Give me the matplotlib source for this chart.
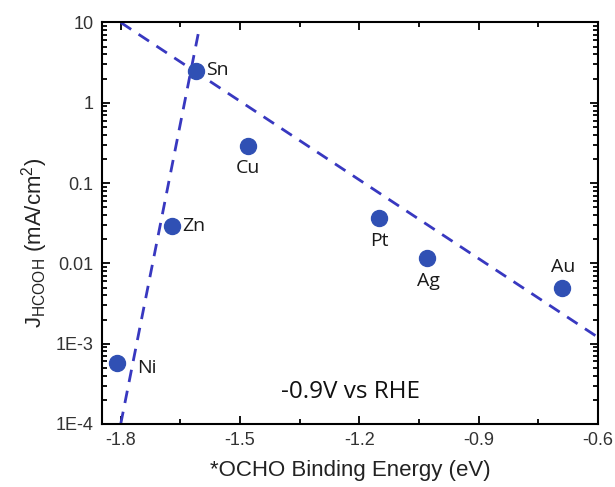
import matplotlib
matplotlib.use("Agg")
import matplotlib.pyplot as plt
from matplotlib.ticker import FixedLocator, MultipleLocator, LogLocator, NullFormatter

plt.rcParams['font.family'] = ['Liberation Sans', 'DejaVu Sans']
plt.rcParams['mathtext.fontset'] = 'custom'
plt.rcParams['mathtext.rm'] = 'Liberation Sans'
plt.rcParams['mathtext.it'] = 'Liberation Sans:italic'

# data
metals = ['Ni', 'Zn', 'Sn', 'Cu', 'Pt', 'Ag', 'Au']
binding_energy = [-1.81, -1.67, -1.61, -1.48, -1.15, -1.03, -0.69]
j_hcooh = [5.8e-4, 0.029, 2.5, 0.29, 0.037, 0.0116, 0.0049]

# trend lines (endpoints)
line_right_x = [-1.80, -0.60]
line_right_y = [10.0, 1.2e-3]
line_left_x = [-1.80, -1.605]
line_left_y = [1.0e-4, 7.3]

xticks = [-1.8, -1.5, -1.2, -0.9, -0.6]
xtick_labels = ['-1.8', '-1.5', '-1.2', '-0.9', '-0.6']
yticks = [10, 1, 0.1, 0.01, 1e-3, 1e-4]
ytick_labels = ['10', '1', '0.1', '0.01', '1E-3', '1E-4']

dot_color = '#3050b4'
line_color = '#3838c0'

fig = plt.figure(figsize=(6.15, 4.87), dpi=100)
ax = fig.add_axes([0.1659, 0.1294, 0.8065, 0.8244])

ax.plot(line_right_x, line_right_y, color=line_color, lw=2.0, dashes=(4.5, 3.2), zorder=2)
ax.plot(line_left_x, line_left_y, color=line_color, lw=2.0, dashes=(4.5, 3.2), zorder=2)
ax.plot(binding_energy, j_hcooh, 'o', color=dot_color, markersize=11.5, zorder=3)

offsets = {
    'Sn': (10, 1, 'left', 'center'),
    'Zn': (10, 0, 'left', 'center'),
    'Ni': (20, -5, 'left', 'center'),
    'Cu': (0, -22, 'center', 'center'),
    'Pt': (0, -23, 'center', 'center'),
    'Ag': (1, -23, 'center', 'center'),
    'Au': (1, 21, 'center', 'center'),
}
for m, x, y in zip(metals, binding_energy, j_hcooh):
    dx, dy, ha, va = offsets[m]
    ax.annotate(m, (x, y), xytext=(dx, dy), textcoords='offset pixels',
                ha=ha, va=va, fontsize=14, family=['Open Sans', 'DejaVu Sans'],
                color='#1a1a1a')

ax.text(0.5, 0.08, '-0.9V vs RHE', transform=ax.transAxes, ha='center', va='center',
        fontsize=17.5, family=['Open Sans', 'DejaVu Sans'], color='#111111')

ax.set_yscale('log')
ax.set_xlim(-1.847, -0.60)
ax.set_ylim(1e-4, 10)

ax.xaxis.set_major_locator(FixedLocator(xticks))
ax.set_xticklabels(xtick_labels)
ax.xaxis.set_minor_locator(MultipleLocator(0.15))
ax.yaxis.set_major_locator(FixedLocator(yticks))
ax.set_yticklabels(ytick_labels)
ax.yaxis.set_minor_locator(LogLocator(base=10, subs=range(2, 10)))
ax.yaxis.set_minor_formatter(NullFormatter())

ax.tick_params(which='both', direction='in', top=True, right=True, width=1.3,
               labelsize=13, labelcolor='#333333', pad=6)
ax.tick_params(which='major', length=6)
ax.tick_params(which='minor', length=3.5)
for s in ax.spines.values():
    s.set_linewidth(1.5)

ax.set_xlabel('*OCHO Binding Energy (eV)', fontsize=16, color='#222222', labelpad=8)
ax.set_ylabel(r'J$_{\mathrm{HCOOH}}$ (mA/cm$^{2}$)', fontsize=16, color='#222222')
ax.yaxis.set_label_coords(-0.105, 0.45)

fig.savefig('out.png', dpi=100)
